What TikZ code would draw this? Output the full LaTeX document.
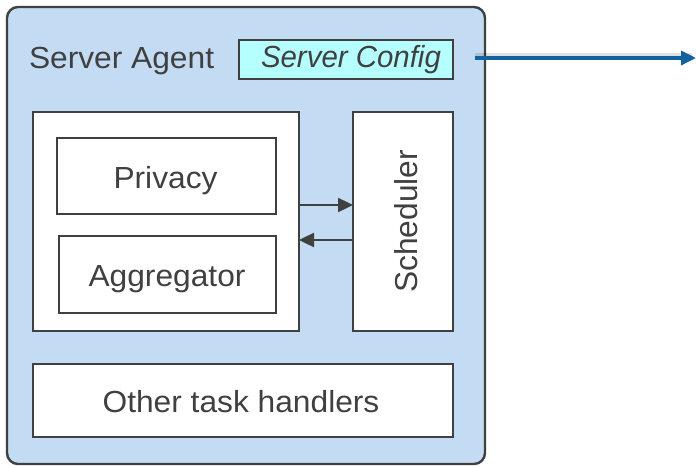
\documentclass[tikz,border=0pt]{standalone}
\usepackage{fontspec}
\setmainfont{Liberation Sans}
\usetikzlibrary{arrows.meta}
\definecolor{agentblue}{HTML}{C3DCF3}
\definecolor{cfgcyan}{HTML}{B5FFFF}
\definecolor{edge}{HTML}{404040}
\definecolor{linkblue}{HTML}{11629E}
\begin{document}
\begin{tikzpicture}[x=1pt,y=-1pt,
  every node/.style={inner sep=0pt,outer sep=0pt,text=edge,font=\fontsize{30.5}{36}\selectfont},
  label/.style={anchor=base,xscale=1.04},
  block/.style={draw=edge,line width=2.4pt,fill=white,rectangle,anchor=north west},
  flow/.style={draw=edge,line width=2.4pt,-{Triangle[length=15pt,width=14pt]}}]
\useasboundingbox (0,0) rectangle (696,466);
% agent container
\node[draw=edge,line width=2.4pt,fill=agentblue,rounded corners=11pt,anchor=north west,
      minimum width=478pt,minimum height=457pt] (agent) at (7,7) {};
\node[label,anchor=base west] (title) at (29,68) {Server Agent};
\node[block,fill=cfgcyan,minimum width=214pt,minimum height=39pt] (cfg) at (239,40) {};
\node[anchor=base west,xscale=0.965,font=\fontsize{30.5}{36}\selectfont\itshape] (cfgtext) at (261,67.5) {Server Config};
% inner components
\node[block,minimum width=266pt,minimum height=219pt] (core) at (33,112) {};
\node[block,minimum width=219pt,minimum height=76pt] (privacy) at (57,138) {};
\node[label] (privtext) at (165.5,188.3) {Privacy};
\node[block,minimum width=217pt,minimum height=77pt] (aggr) at (59,236) {};
\node[label] (aggrtext) at (167,286.5) {Aggregator};
\node[block,minimum width=100pt,minimum height=219pt] (sched) at (353,112) {};
\node[label,xscale=1,yscale=1.04,rotate=90] (schedtext) at (417,221.5) {Scheduler};
\node[block,minimum width=420pt,minimum height=73pt] (other) at (33,364) {};
\node[label] (othertext) at (241,412) {Other task handlers};
% message flow between core and scheduler
\draw[flow] (core.east |- 0,205) -- (sched.west |- 0,205);
\draw[flow] (sched.west |- 0,240) -- (core.east |- 0,240);
% outgoing link
\coordinate (linkstart) at (475,58);
\coordinate (linkend) at (696,58);
\draw[line width=3.5pt,black,opacity=0.12] ([yshift=3pt]linkstart) -- ([xshift=-4pt,yshift=3pt]linkend);
\draw[line width=3.5pt,linkblue,-{Triangle[length=15pt,width=14pt]}] (linkstart) -- (linkend);
\end{tikzpicture}
\end{document}
